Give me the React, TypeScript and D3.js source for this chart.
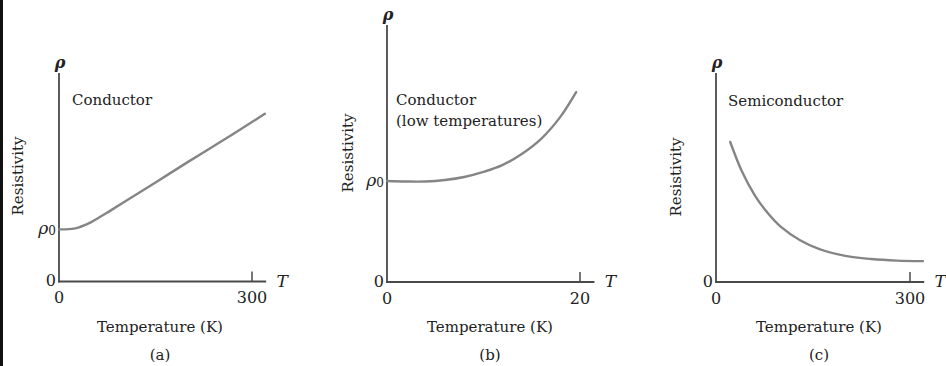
import { useEffect, useRef } from 'react';
import * as d3 from 'd3';

// (a) conductor, full range
const conductorT = [0, 10, 20, 30, 40, 50, 60, 70, 80, 100, 150, 200, 250, 300, 320];
const conductorRho = [1.0, 1.0, 1.01, 1.035, 1.08, 1.14, 1.21, 1.285, 1.36, 1.515, 1.9, 2.29, 2.67, 3.06, 3.22];

// (b) conductor, low temperatures
const lowTempT = [0, 2, 4, 6, 8, 10, 12, 14, 16, 18, 19.6];
const lowTempRho = [1.0, 0.995, 0.995, 1.01, 1.04, 1.09, 1.16, 1.27, 1.42, 1.64, 1.88];

// (c) semiconductor
const semiT = [22, 40, 60, 80, 100, 130, 160, 200, 240, 280, 320];
const semiRho = [2.68, 2.12, 1.66, 1.32, 1.06, 0.8, 0.63, 0.5, 0.44, 0.41, 0.4];

const xTickValues = [300, 20, 300];
const panelTitles = [['Conductor'], ['Conductor', '(low temperatures)'], ['Semiconductor']];
const captions = ['(a)', '(b)', '(c)'];

const FONT = '"DejaVu Serif", "Liberation Serif", serif';
const AXIS = '#4a4a4a';
const CURVE = '#858585';
const TEXT = '#222';

interface Panel {
  t: number[];
  rho: number[];
  xMax: number;
  xEndT: number;
  yMax: number;
  left: number;
  tickX: number;
  bottom: number;
  top: number;
  showRho0: boolean;
  titleX: number;
  titleY: number;
  resX: number;
  resY: number;
  center: number;
}

export default function App() {
  const svgRef = useRef<SVGSVGElement>(null);

  useEffect(() => {
    if (!svgRef.current) return;
    const svg = d3.select(svgRef.current);
    svg.selectAll('*').remove();

    svg.append('rect').attr('width', 946).attr('height', 366).attr('fill', '#fff');
    svg.append('rect').attr('width', 3).attr('height', 366).attr('fill', '#111');

    const panels: Panel[] = [
      { t: conductorT, rho: conductorRho, xMax: xTickValues[0], xEndT: 322, yMax: 4, left: 59, tickX: 252, bottom: 281.5, top: 73, showRho0: true, titleX: 72, titleY: 100, resX: 18, resY: 176, center: 160 },
      { t: lowTempT, rho: lowTempRho, xMax: xTickValues[1], xEndT: 21.5, yMax: 2.545, left: 387, tickX: 580, bottom: 282, top: 25, showRho0: true, titleX: 396, titleY: 100, resX: 348, resY: 153, center: 490 },
      { t: semiT, rho: semiRho, xMax: xTickValues[2], xEndT: 322, yMax: 4, left: 716, tickX: 910, bottom: 282, top: 73, showRho0: false, titleX: 728, titleY: 101, resX: 676, resY: 177, center: 819 },
    ];

    panels.forEach((p, i) => {
      const x = d3.scaleLinear().domain([0, p.xMax]).range([p.left, p.tickX]);
      const y = d3.scaleLinear().domain([0, p.yMax]).range([p.bottom, p.top]);
      const g = svg.append('g');

      // axes
      g.append('line')
        .attr('x1', x(0)).attr('x2', x(0))
        .attr('y1', y(p.yMax)).attr('y2', y(0) + 1)
        .attr('stroke', AXIS).attr('stroke-width', 1.8);
      g.append('line')
        .attr('x1', x(0) - 1).attr('x2', x(p.xEndT))
        .attr('y1', y(0)).attr('y2', y(0))
        .attr('stroke', AXIS).attr('stroke-width', 1.8);
      g.append('line')
        .attr('x1', x(p.xMax)).attr('x2', x(p.xMax))
        .attr('y1', y(0)).attr('y2', y(0) - 10)
        .attr('stroke', AXIS).attr('stroke-width', 1.5);

      // curve
      const pts = p.t.map((t, k) => [t, p.rho[k]] as [number, number]);
      const line = d3.line<[number, number]>()
        .x((d) => x(d[0]))
        .y((d) => y(d[1]))
        .curve(d3.curveCatmullRom.alpha(0.5));
      g.append('path')
        .attr('d', line(pts) || '')
        .attr('fill', 'none')
        .attr('stroke', CURVE)
        .attr('stroke-width', 2.4)
        .attr('stroke-linecap', 'round');

      const txt = (tx: number, ty: number, s: string, size = 15, anchor = 'start') =>
        g.append('text')
          .attr('x', tx).attr('y', ty)
          .attr('dominant-baseline', 'central')
          .attr('text-anchor', anchor)
          .attr('font-family', FONT)
          .attr('font-size', size)
          .attr('fill', TEXT)
          .text(s);

      // tick labels
      txt(x(0), y(0) + 16, '0', 16, 'middle');
      txt(x(p.xMax), y(0) + 16, String(p.xMax), 16, 'middle');
      txt(x(0) - 3, y(0) - 1, '0', 16, 'end');

      // axis symbols
      txt(x(0) + 1, y(p.yMax) - 11, 'ρ', 16, 'middle').attr('font-style', 'italic').attr('font-weight', 'bold');
      txt(x(p.xEndT) + 16, y(0) - 1, 'T', 17, 'middle').attr('font-style', 'italic');

      if (p.showRho0) {
        const r0 = g.append('text')
          .attr('x', x(0) - 3).attr('y', y(1) - 1)
          .attr('dominant-baseline', 'central')
          .attr('text-anchor', 'end')
          .attr('font-family', FONT)
          .attr('font-size', 17)
          .attr('fill', TEXT);
        r0.append('tspan').attr('font-style', 'italic').text('ρ');
        r0.append('tspan').attr('font-size', 12).attr('dy', 3).text('0');
      }

      // panel title
      panelTitles[i].forEach((s, k) => txt(p.titleX, p.titleY + k * 21, s));

      // axis titles
      g.append('text')
        .attr('transform', `translate(${p.resX},${p.resY}) rotate(-90)`)
        .attr('dominant-baseline', 'central')
        .attr('text-anchor', 'middle')
        .attr('font-family', FONT)
        .attr('font-size', 15)
        .attr('fill', TEXT)
        .text('Resistivity');
      txt(p.center, 327, 'Temperature (K)', 15, 'middle');
      txt(p.center, 355, captions[i], 15, 'middle');
    });
  }, []);

  return (
    <svg
      ref={svgRef}
      width={946}
      height={366}
      style={{ position: 'absolute', left: 0, top: 0, display: 'block' }}
    ></svg>
  );
}
